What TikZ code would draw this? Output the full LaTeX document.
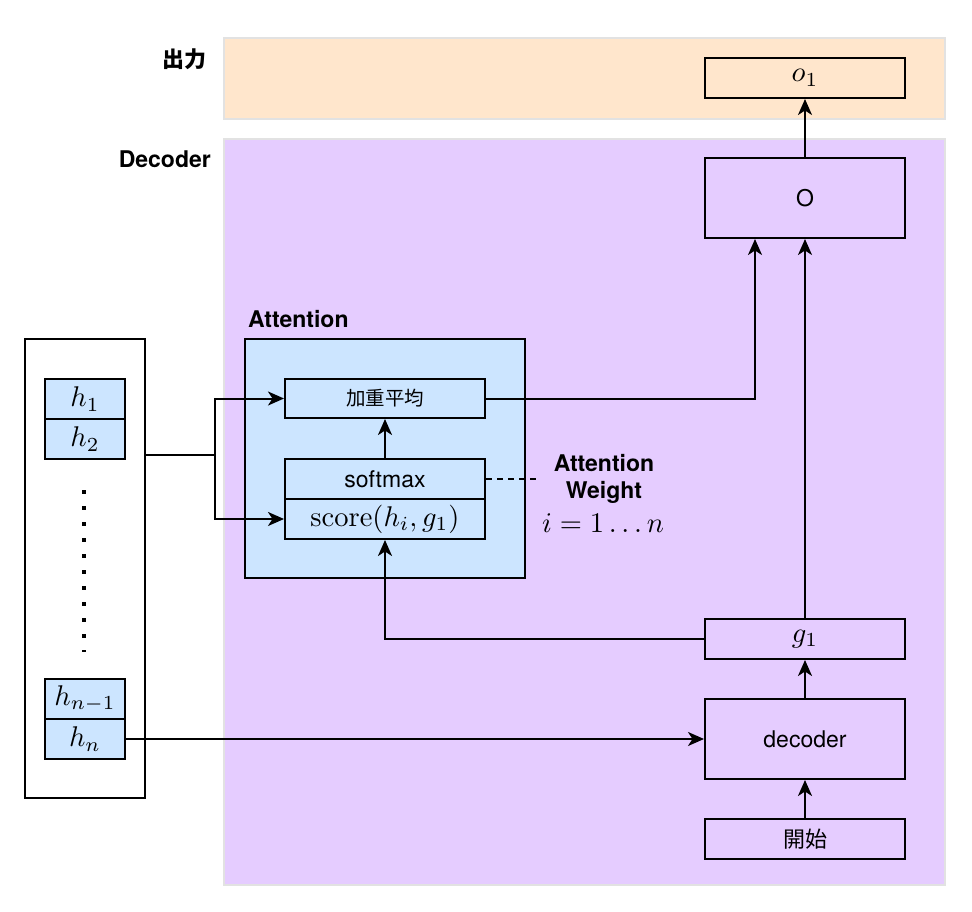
\documentclass[tikz,border=0pt]{standalone}
\usepackage{fontspec}
\usepackage{graphicx}
\usetikzlibrary{arrows.meta}
\newfontfamily\hv{TeX Gyre Heros}
\newfontfamily\cjk{Noto Sans CJK JP}
\newcommand\mbig[1]{\scalebox{2.85}{\fontsize{10}{12}\selectfont$#1$}}
\definecolor{peach}{HTML}{FFE6CC}
\definecolor{lilac}{HTML}{E5CCFF}
\definecolor{pale}{HTML}{CCE5FF}
\definecolor{bandline}{HTML}{E2E2E2}
\tikzset{
  band/.style={draw=bandline,line width=1.5pt},
  box/.style={draw=black,line width=2pt,rectangle,inner sep=0pt,minimum width=200pt,minimum height=40pt},
  txt/.style={font=\hv\fontsize{23}{26}\selectfont},
  jp/.style={font=\cjk\fontsize{22}{24}\selectfont},
  lbl/.style={font=\hv\bfseries\fontsize{23}{26}\selectfont,inner sep=0pt},
  arr/.style={line width=2pt,-{Stealth[length=16pt,width=14pt,inset=4.5pt]}},
  conn/.style={line width=2pt}
}
\begin{document}
\begin{tikzpicture}[x=1pt,y=-1pt]
\useasboundingbox (0,0) rectangle (972,912);
% bands
\fill[white] (0,0) rectangle (972,912);
\draw[band,fill=peach] (224,38) rectangle (945,119);
\draw[band,fill=lilac] (224,139) rectangle (945,885);
\node[lbl,anchor=east,font=\cjk\bfseries\fontsize{22}{24}\selectfont] (outlbl) at (207,59) {出力};
\node[lbl,anchor=east] (declbl) at (211,159) {Decoder};
% right column
\node[box,fill=peach] (o1) at (805,78) {\mbig{o_1}};
\node[box,fill=lilac,txt,minimum height=80pt] (O) at (805,198) {O};
\node[box,fill=lilac] (g1) at (805,639) {\mbig{g_1}};
\node[box,fill=lilac,txt,minimum height=80pt] (dec) at (805,739) {decoder};
\node[box,fill=lilac,jp] (start) at (805,839) {開始};
% attention
\node[draw=black,line width=2pt,fill=pale,minimum width=280pt,minimum height=239pt,inner sep=0pt] (att) at (385,458.5) {};
\node[lbl,anchor=west] (attlbl) at (248,319) {Attention};
\node[box,fill=pale,jp,minimum height=39pt,font=\cjk\fontsize{19.5}{22}\selectfont] (wavg) at (385,398.5) {加重平均};
\node[box,fill=pale,txt] (softmax) at (385,479) {softmax};
\node[box,fill=pale] (score) at (385,519) {\mbig{\mathrm{score}(h_i,g_1)}};
\node[lbl,align=center] (aw) at (604,479) {Attention\\[1pt]Weight};
\node[inner sep=0pt] (range) at (603,523) {\mbig{i=1\ldots n}};
\coordinate (dashend) at (540,479);
\draw[conn,dash pattern=on 6pt off 5pt] (softmax.east) -- (dashend);
% encoder
\node[draw=black,line width=2pt,fill=white,minimum width=120pt,minimum height=459pt,inner sep=0pt] (enc) at (85,568.5) {};
\tikzset{hbox/.style={draw=black,line width=2pt,fill=pale,minimum width=80pt,minimum height=40pt,inner sep=0pt}}
\node[hbox] (h1) at (85,399) {\mbig{h_1}};
\node[hbox] (h2) at (85,439) {\mbig{h_2}};
\node[hbox] (hn1) at (85,699) {\mbig{h_{n-1}}};
\node[hbox] (hn) at (85,739) {\mbig{h_n}};
\coordinate (dtop) at (84,490);
\coordinate (dbot) at (84,652);
\draw[line width=3.5pt,dash pattern=on 3.5pt off 12.5pt] (dtop) -- (dbot);
% connectors
\coordinate (split) at (215,455);
\draw[conn] (enc.east |- split) -- (split);
\draw[arr] (split) |- (wavg.west);
\draw[arr] (split) |- (score.west);
\draw[arr] (hn.east) -- (dec.west);
\draw[arr] (softmax.north) -- (wavg.south);
\draw[arr] (g1.west) -| (score.south);
\draw[arr] (wavg.east) -| ([xshift=-50pt]O.south);
\draw[arr] (g1.north) -- (O.south);
\draw[arr] (O.north) -- (o1.south);
\draw[arr] (dec.north) -- (g1.south);
\draw[arr] (start.north) -- (dec.south);
\end{tikzpicture}
\end{document}
